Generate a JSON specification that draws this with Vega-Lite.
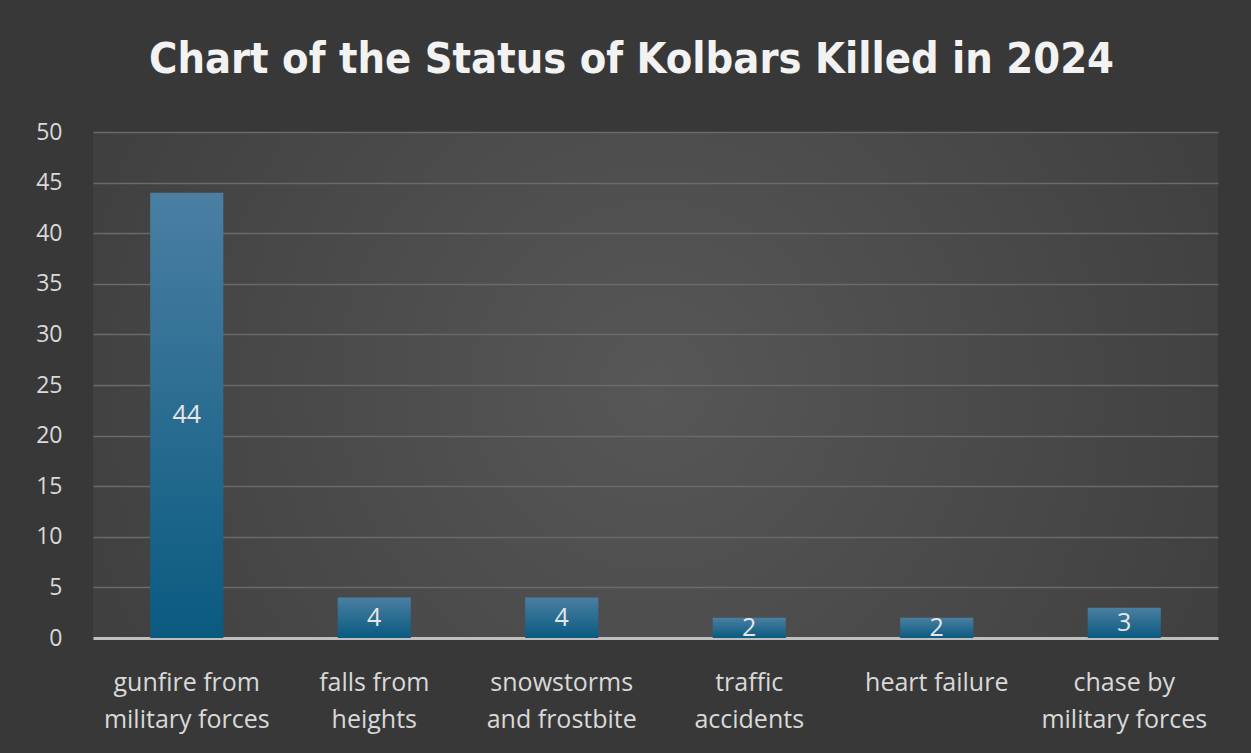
{
  "$schema": "https://vega.github.io/schema/vega-lite/v6.json",
  "width": 1125,
  "height": 506,
  "autosize": "none",
  "padding": {"left": 93, "top": 132, "right": 33, "bottom": 115},
  "background": "#383838",
  "config": {
    "view": {"stroke": null, "fill": {"gradient": "radial", "x1": 0.5, "y1": 0.5, "r1": 0, "x2": 0.5, "y2": 0.5, "r2": 0.72, "stops": [{"offset": 0, "color": "#575757"}, {"offset": 1, "color": "#383838"}]}},
    "font": "Open Sans"
  },
  "title": {
    "text": "Chart of the Status of Kolbars Killed in 2024",
    "font": "DejaVu Sans Condensed",
    "fontWeight": "bold",
    "fontSize": 43,
    "color": "#f2f2f2",
    "anchor": "middle",
    "dx": -24,
    "offset": -4,
    "baseline": "bottom"
  },
  "data": {
    "values": [
      {"cause": "gunfire from\nmilitary forces", "count": 44},
      {"cause": "falls from\nheights", "count": 4},
      {"cause": "snowstorms\nand frostbite", "count": 4},
      {"cause": "traffic\naccidents", "count": 2},
      {"cause": "heart failure", "count": 2},
      {"cause": "chase by\nmilitary forces", "count": 3}
    ]
  },
  "encoding": {
    "x": {
      "field": "cause",
      "type": "nominal",
      "sort": null,
      "scale": {"paddingInner": 0.61, "paddingOuter": 0.305},
      "axis": {
        "title": null,
        "labelAngle": 0,
        "labelExpr": "split(datum.label, '\\n')",
        "labelFont": "Open Sans",
        "labelFontSize": 25,
        "labelColor": "#d9d9d9",
        "labelPadding": 52,
        "labelLineHeight": 37,
        "labelBaseline": "alphabetic",
        "ticks": false,
        "domainColor": "#bfbfbf",
        "domainWidth": 3,
        "labelLimit": 300
      }
    }
  },
  "layer": [
    {
      "mark": {
        "type": "bar",
        "color": {"gradient": "linear", "x1": 0, "y1": 0, "x2": 0, "y2": 1, "stops": [{"offset": 0, "color": "#4a7fa2"}, {"offset": 1, "color": "#0a5a80"}]}
      },
      "encoding": {
        "y": {
          "field": "count",
          "type": "quantitative",
          "scale": {"domain": [0, 50]},
          "axis": {
            "title": null,
            "values": [0, 5, 10, 15, 20, 25, 30, 35, 40, 45, 50],
            "labelFontSize": 23,
            "labelColor": "#d9d9d9",
            "labelPadding": 31,
            "ticks": false,
            "domain": false,
            "gridColor": "#6a6a6a",
            "gridWidth": 1.5
          }
        }
      }
    },
    {
      "mark": {"type": "text", "fontSize": 25, "color": "#e6e6e6", "baseline": "middle", "dy": {"expr": "(scale('y', 0) - scale('y', datum.count)) / 2"}},
      "encoding": {
        "y": {"field": "count", "type": "quantitative"},
        "text": {"field": "count", "type": "quantitative"}
      }
    }
  ]
}
